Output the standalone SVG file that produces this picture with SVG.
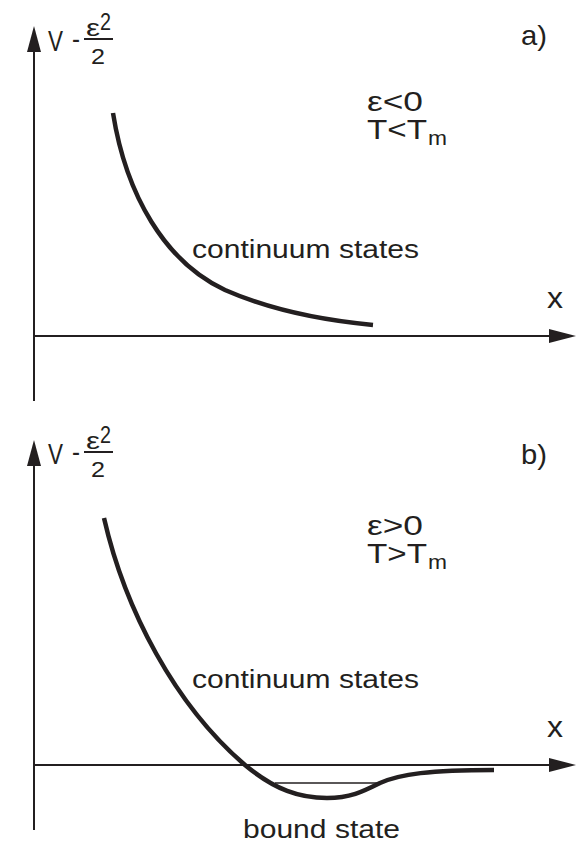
<svg xmlns="http://www.w3.org/2000/svg" width="582" height="843" viewBox="0 0 582 843">
<style>
text{font-family:"Liberation Sans",Arial,Helvetica,sans-serif;fill:#231f20}
.axis{stroke:#231f20;stroke-width:2;fill:none}
.curve{stroke:#231f20;stroke-width:4.5;fill:none;stroke-linecap:butt}
.thin{stroke:#231f20;stroke-width:1.6;fill:none}
.head{fill:#231f20}
</style>
<rect width="582" height="843" fill="#fff"/>
<g id="connectors">
<line class="axis" x1="34" y1="48" x2="34" y2="401"/>
<polygon class="head" points="34,26 27,52 41,52"/>
<line class="axis" x1="34" y1="336" x2="552" y2="336"/>
<polygon class="head" points="576,336 549,329 549,343"/>
<path class="curve" d="M113,113 C126,195 165,262 225,290 C275,312 330,321 373,325"/>
<line class="axis" x1="34" y1="462" x2="34" y2="830"/>
<polygon class="head" points="34,440 27,466 41,466"/>
<line class="axis" x1="34" y1="765" x2="552" y2="765"/>
<polygon class="head" points="576,765 549,758 549,772"/>
<path class="curve" d="M104,518 C125,610 175,705 245,765 C275,790 300,798 327,798 C350,798 362,792 380,783 C400,774 430,770 494,770"/>
<line class="thin" x1="275" y1="783" x2="380" y2="783"/>
</g>
<g id="panel-a-ylabel">
<text x="48" y="51" font-size="30" textLength="15" lengthAdjust="spacingAndGlyphs">V</text>
<text x="72" y="48" font-size="28" textLength="8" lengthAdjust="spacingAndGlyphs">-</text>
<text x="86" y="36" font-size="24" textLength="14" lengthAdjust="spacingAndGlyphs">ε</text>
<text x="100" y="30" font-size="23" textLength="11" lengthAdjust="spacingAndGlyphs">2</text>
<line class="axis" x1="84" y1="39" x2="113" y2="39"/>
<text x="91" y="64" font-size="22" textLength="14" lengthAdjust="spacingAndGlyphs">2</text>
</g>
<g id="panel-a-labels">
<text x="521" y="45" font-size="28" textLength="26" lengthAdjust="spacingAndGlyphs">a)</text>
<text x="367" y="111" font-size="27" textLength="56" lengthAdjust="spacingAndGlyphs">ε&lt;0</text>
<text x="367" y="139" font-size="27" textLength="60" lengthAdjust="spacingAndGlyphs">T&lt;T</text>
<text x="428" y="145" font-size="21" textLength="19" lengthAdjust="spacingAndGlyphs">m</text>
<text x="192" y="258" font-size="26" textLength="227" lengthAdjust="spacingAndGlyphs">continuum states</text>
<text x="547" y="308" font-size="29" textLength="16" lengthAdjust="spacingAndGlyphs">x</text>
</g>
<g id="panel-b-ylabel">
<text x="48" y="464" font-size="30" textLength="15" lengthAdjust="spacingAndGlyphs">V</text>
<text x="72" y="461" font-size="28" textLength="8" lengthAdjust="spacingAndGlyphs">-</text>
<text x="86" y="449" font-size="24" textLength="14" lengthAdjust="spacingAndGlyphs">ε</text>
<text x="100" y="443" font-size="23" textLength="11" lengthAdjust="spacingAndGlyphs">2</text>
<line class="axis" x1="84" y1="452" x2="113" y2="452"/>
<text x="91" y="477" font-size="22" textLength="14" lengthAdjust="spacingAndGlyphs">2</text>
</g>
<g id="panel-b-labels">
<text x="521" y="464" font-size="28" textLength="26" lengthAdjust="spacingAndGlyphs">b)</text>
<text x="367" y="535" font-size="27" textLength="56" lengthAdjust="spacingAndGlyphs">ε&gt;0</text>
<text x="367" y="563" font-size="27" textLength="60" lengthAdjust="spacingAndGlyphs">T&gt;T</text>
<text x="428" y="569" font-size="21" textLength="19" lengthAdjust="spacingAndGlyphs">m</text>
<text x="192" y="688" font-size="26" textLength="227" lengthAdjust="spacingAndGlyphs">continuum states</text>
<text x="547" y="737" font-size="29" textLength="16" lengthAdjust="spacingAndGlyphs">x</text>
<text x="243" y="838" font-size="26" textLength="157" lengthAdjust="spacingAndGlyphs">bound state</text>
</g>
</svg>
